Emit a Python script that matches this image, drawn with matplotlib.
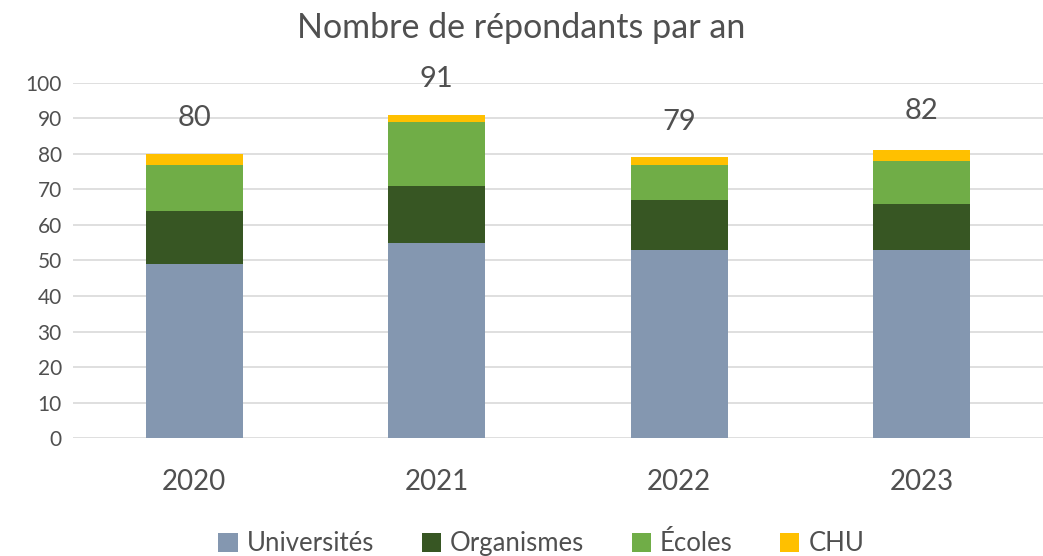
import matplotlib
matplotlib.use("Agg")
from matplotlib import pyplot as plt
import numpy as np

# données
annees = ['2020', '2021', '2022', '2023']
universites = [49, 55, 53, 53]
organismes = [15, 16, 14, 13]
ecoles = [13, 18, 10, 12]
chu = [3, 2, 2, 3]
totaux = [80, 91, 79, 82]

plt.rcParams['font.family'] = ['Lato', 'DejaVu Sans']
gris = '#505050'

fig = plt.figure(figsize=(10.43, 5.56), dpi=100)
ax = fig.add_axes([0.07, 0.212, 0.93, 0.639])

x = np.arange(len(annees))
w = 0.4
series = [
    ('Universités', universites, '#8497B0'),
    ('Organismes', organismes, '#375623'),
    ('Écoles', ecoles, '#70AD47'),
    ('CHU', chu, '#FFC000'),
]
bottom = np.zeros(len(annees))
for nom, vals, col in series:
    ax.bar(x, vals, w, bottom=bottom, color=col, label=nom, zorder=3)
    bottom += np.array(vals)

for xi, t in zip(x, totaux):
    ax.text(xi, t + 10, str(t), ha='center', va='center', fontsize=21,
            color=gris, clip_on=False)

ax.set_xlim(-0.5, 3.5)
ax.set_ylim(0, 100)
ax.set_yticks(range(0, 101, 10))
ax.set_xticks(x)
ax.set_xticklabels(annees)
ax.yaxis.grid(True, color='#D9D9D9', linewidth=1.2, zorder=0)
for s in ax.spines.values():
    s.set_visible(False)
ax.tick_params(axis='both', length=0, colors=gris)
ax.tick_params(axis='y', labelsize=15, pad=8)
ax.tick_params(axis='x', labelsize=20, pad=22)

fig.suptitle('Nombre de répondants par an', fontsize=24.5, color=gris, y=0.978)

fig.legend(loc='center', ncol=4, frameon=False, fontsize=18.5,
           bbox_to_anchor=(0.519, 0.022), handlelength=0.75, handleheight=0.75,
           columnspacing=1.85, handletextpad=0.35, labelcolor=gris,
           borderpad=0)

fig.savefig('out.png', dpi=100)
